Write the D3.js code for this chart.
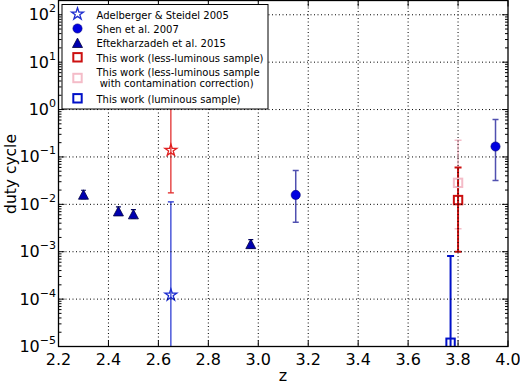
<!DOCTYPE html>
<html>
<head>
<meta charset="utf-8">
<script src="https://cdn.jsdelivr.net/npm/d3@7"></script>
<style>
html,body{margin:0;padding:0;background:#fff;}
svg{display:block;font-family:"DejaVu Sans",sans-serif;}
</style>
</head>
<body>
<svg id="chart" width="520" height="385"></svg>
<script>
// ---------- data ----------
const xTicks = [2.2, 2.4, 2.6, 2.8, 3.0, 3.2, 3.4, 3.6, 3.8, 4.0];
const yTickExps = [-5, -4, -3, -2, -1, 0, 1, 2];

// Adelberger & Steidel 2005 (stars): less-luminous analog, luminous analog
const adelZ = [2.65, 2.65];
const adelDuty = [0.138, 1.22e-4];
const adelLow = [0.0175, 1e-7];
const adelHigh = [2.0, 0.0113];

// Shen et al. 2007 (circles)
const shenZ = [3.15, 3.95];
const shenDuty = [0.0158, 0.166];
const shenLow = [0.0042, 0.0318];
const shenHigh = [0.052, 0.615];

// Eftekharzadeh et al. 2015 (triangles)
const eftZ = [2.30, 2.44, 2.50, 2.97];
const eftDuty = [0.0161, 0.00715, 0.0062, 0.00146];
const eftLow = [0.0132, 0.0059, 0.0051, 0.0012];
const eftHigh = [0.0198, 0.0088, 0.0077, 0.0018];

// This work
const lessZ = [3.80], lessDuty = [0.0123], lessLow = [0.001], lessHigh = [0.06];
const contZ = [3.80], contDuty = [0.0284], contLow = [0.00305], contHigh = [0.225];
const lumZ = [3.77], lumDuty = [1.2e-5], lumLow = [1e-7], lumHigh = [8.1e-4];

const legendLabels = [
  ["Adelberger & Steidel 2005"],
  ["Shen et al. 2007"],
  ["Eftekharzadeh et al. 2015"],
  ["This work (less-luminous sample)"],
  ["This work (less-luminous sample", " with contamination correction)"],
  ["This work (luminous sample)"]
];

// ---------- layout ----------
const L = 58.5, R = 508, T = 0.5, B = 346.5;
const svg = d3.select("#chart");
const x = d3.scaleLinear().domain([2.2, 4.0]).range([L, R]);
const y = d3.scaleLog().domain([1e-5, 200]).range([B, T]);

const defs = svg.append("defs");
defs.append("clipPath").attr("id", "clip")
  .append("rect").attr("x", L).attr("y", T).attr("width", R - L).attr("height", B - T);

const plot = svg.append("g").attr("clip-path", "url(#clip)");

const RED = "#e02020", BLUE = "#1f2fd0";

function errbars(g, zs, lo, hi, color, width, cap) {
  zs.forEach((z, i) => {
    const cx = x(z);
    g.append("line").attr("x1", cx).attr("x2", cx)
      .attr("y1", y(lo[i])).attr("y2", y(hi[i]))
      .attr("stroke", color).attr("stroke-width", width);
    [lo[i], hi[i]].forEach(v => {
      g.append("line").attr("x1", cx - cap).attr("x2", cx + cap)
        .attr("y1", y(v)).attr("y2", y(v))
        .attr("stroke", color).attr("stroke-width", width);
    });
  });
}

const starPath = d3.symbol().type(d3.symbolStar).size(44)();
const triPath = "M0,-4.7L5,4.7L-5,4.7Z";

// error bars
errbars(plot, [adelZ[0]], [adelLow[0]], [adelHigh[0]], RED, 1.2, 3);
errbars(plot, [adelZ[1]], [adelLow[1]], [adelHigh[1]], BLUE, 1.2, 3);
errbars(plot, shenZ, shenLow, shenHigh, "#5050b0", 1.5, 3);
errbars(plot, eftZ, eftLow, eftHigh, "#000060", 1.2, 2.5);
errbars(plot, contZ, contLow, contHigh, "#f4bcc8", 1.5, 3.5);
errbars(plot, lessZ, lessLow, lessHigh, "#cc1010", 2, 3.5);
errbars(plot, lumZ, lumLow, lumHigh, "#0010c8", 2, 3.5);

// markers
plot.append("path").attr("d", starPath)
  .attr("transform", `translate(${x(adelZ[0])},${y(adelDuty[0])})`)
  .attr("fill", "none").attr("stroke", RED).attr("stroke-width", 1.3);
plot.append("path").attr("d", starPath)
  .attr("transform", `translate(${x(adelZ[1])},${y(adelDuty[1])})`)
  .attr("fill", "none").attr("stroke", BLUE).attr("stroke-width", 1.3);

plot.selectAll("circle.shen").data(shenZ).join("circle").attr("class", "shen")
  .attr("cx", d => x(d)).attr("cy", (d, i) => y(shenDuty[i])).attr("r", 4.6)
  .attr("fill", "#0000e0").attr("stroke", "#00007a").attr("stroke-width", 0.6);

plot.selectAll("path.eft").data(eftZ).join("path").attr("class", "eft")
  .attr("d", triPath)
  .attr("transform", (d, i) => `translate(${x(d)},${y(eftDuty[i])})`)
  .attr("fill", "#0000b0").attr("stroke", "#000040").attr("stroke-width", 0.8);

function squares(zs, vals, color) {
  plot.selectAll(null).data(zs).join("rect")
    .attr("x", d => x(d) - 4.2).attr("y", (d, i) => y(vals[i]) - 4.2)
    .attr("width", 8.4).attr("height", 8.4)
    .attr("fill", "none").attr("stroke", color).attr("stroke-width", 2);
}
squares(contZ, contDuty, "#f4bcc8");
squares(lessZ, lessDuty, "#cc1010");
squares(lumZ, lumDuty, "#0010c8");

// grid (drawn over data)
const grid = svg.append("g").attr("stroke", "#000").attr("stroke-width", 1)
  .attr("stroke-dasharray", "1,2.5").attr("fill", "none");
xTicks.slice(1, -1).forEach(t => {
  grid.append("line").attr("x1", x(t)).attr("x2", x(t)).attr("y1", T).attr("y2", B);
});
yTickExps.forEach(e => {
  grid.append("line").attr("x1", L).attr("x2", R).attr("y1", y(Math.pow(10, e))).attr("y2", y(Math.pow(10, e)));
});

// ticks
const ticks = svg.append("g").attr("stroke", "#000").attr("stroke-width", 1);
xTicks.forEach(t => {
  ticks.append("line").attr("x1", x(t)).attr("x2", x(t)).attr("y1", B).attr("y2", B - 6);
  ticks.append("line").attr("x1", x(t)).attr("x2", x(t)).attr("y1", T).attr("y2", T + 6);
});
for (let e = -6; e <= 2; e++) {
  for (let m = 1; m <= 9; m++) {
    const v = m * Math.pow(10, e);
    if (v < 1e-5 || v > 200) continue;
    const len = m === 1 ? 6 : 3;
    const yy = y(v);
    ticks.append("line").attr("x1", L).attr("x2", L + len).attr("y1", yy).attr("y2", yy);
    ticks.append("line").attr("x1", R).attr("x2", R - len).attr("y1", yy).attr("y2", yy);
  }
}

// frame
svg.append("rect").attr("x", L).attr("y", T).attr("width", R - L).attr("height", B - T)
  .attr("fill", "none").attr("stroke", "#000").attr("stroke-width", 1.3);

// tick labels
const xl = svg.append("g").attr("font-size", 16).attr("fill", "#000").attr("text-anchor", "middle");
xTicks.forEach(t => {
  xl.append("text").attr("x", x(t)).attr("y", 365).text(t.toFixed(1));
});
const yl = svg.append("g").attr("fill", "#000").attr("text-anchor", "end");
yTickExps.forEach(e => {
  const tx = yl.append("text").attr("x", 56).attr("y", y(Math.pow(10, e)) + 5.5).attr("font-size", 16);
  tx.append("tspan").text("10");
  tx.append("tspan").attr("dy", -8).attr("font-size", 11).text(e < 0 ? "\u2212" + (-e) : String(e));
});

// axis labels
svg.append("text").attr("x", 283).attr("y", 381).attr("text-anchor", "middle")
  .attr("font-size", 16).text("z");
svg.append("text").attr("transform", "translate(16,174) rotate(-90)")
  .attr("text-anchor", "middle").attr("font-size", 15.5).text("duty cycle");

// legend
const lg = svg.append("g");
lg.append("rect").attr("x", 62).attr("y", 4.5).attr("width", 206).attr("height", 104.5)
  .attr("fill", "#fff").attr("stroke", "#000").attr("stroke-width", 1);
const mx = 77.5;
lg.append("path").attr("d", starPath).attr("transform", `translate(${mx},14)`)
  .attr("fill", "none").attr("stroke", BLUE).attr("stroke-width", 1.3);
lg.append("circle").attr("cx", mx).attr("cy", 28.5).attr("r", 4.6)
  .attr("fill", "#0000e0").attr("stroke", "#00007a").attr("stroke-width", 0.6);
lg.append("path").attr("d", triPath).attr("transform", `translate(${mx},42.8)`)
  .attr("fill", "#0000b0").attr("stroke", "#000040").attr("stroke-width", 0.8);
[[57.3, "#cc1010"], [78, "#f4bcc8"], [98.3, "#0010c8"]].forEach(([cy, c]) => {
  lg.append("rect").attr("x", mx - 4.2).attr("y", cy - 4.2).attr("width", 8.4).attr("height", 8.4)
    .attr("fill", "none").attr("stroke", c).attr("stroke-width", 2);
});
const baselines = [[18.6], [32.8], [47.2], [61.8], [76.4, 86.6], [102.8]];
legendLabels.forEach((lines, i) => {
  lines.forEach((s, j) => {
    lg.append("text").attr("x", 96.5).attr("y", baselines[i][j]).attr("font-size", 10)
      .attr("xml:space", "preserve").style("white-space", "pre").text(s);
  });
});
</script>
</body>
</html>
